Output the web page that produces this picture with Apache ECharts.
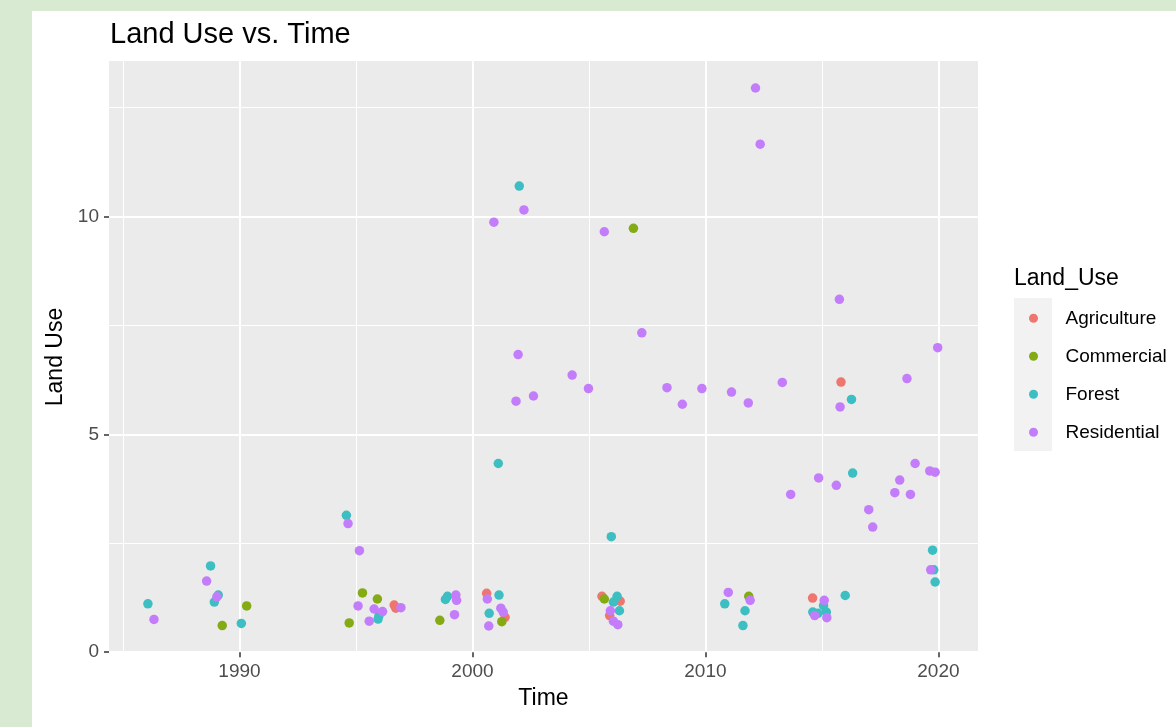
<!DOCTYPE html>
<html>
<head>
<meta charset="utf-8">
<script src="https://cdn.jsdelivr.net/npm/echarts@6/dist/echarts.min.js"></script>
<style>
  html, body { margin: 0; padding: 0; background: #d9ead3; width: 1176px; height: 727px; overflow: hidden; }
  #paper { position: absolute; left: 32px; top: 11px; right: 0; bottom: 0; background: #ffffff; }
  #chart { position: absolute; left: 0; top: 0; width: 1176px; height: 727px; }
</style>
</head>
<body>
<div id="paper"></div>
<div id="chart"></div>
<script>
// ---- Data (Time in years, Land Use value) ----
const categories = ['Agriculture', 'Commercial', 'Forest', 'Residential'];

const agriculture = [
  [1996.64, 1.08], [1996.71, 1.01], [2000.61, 1.35], [2001.40, 0.80], [2005.56, 1.28],
  [2006.34, 1.17], [2005.89, 0.84], [2014.60, 1.24], [2015.82, 6.20]
];

const commercial = [
  [1989.26, 0.61], [1990.31, 1.06], [1995.28, 1.36], [1995.92, 1.22], [1994.71, 0.67],
  [1998.60, 0.73], [2001.26, 0.70], [2005.66, 1.22], [2006.91, 9.73], [2011.86, 1.28]
];

const forest = [
  [1986.07, 1.11], [1988.76, 1.98], [1989.09, 1.31], [1988.92, 1.15], [1990.08, 0.66],
  [1994.59, 3.14], [1995.99, 0.84], [1995.95, 0.76], [1998.93, 1.28], [1998.84, 1.21],
  [2001.14, 1.31], [2000.72, 0.89], [2002.01, 10.70], [2001.11, 4.33], [2005.96, 2.65],
  [2006.21, 1.28], [2006.05, 1.15], [2006.31, 0.95], [2010.83, 1.11], [2011.70, 0.95],
  [2011.61, 0.61], [2015.07, 1.07], [2014.61, 0.92], [2014.83, 0.89], [2015.19, 0.92],
  [2016.00, 1.30], [2016.27, 5.80], [2016.32, 4.11], [2019.75, 2.34], [2019.80, 1.89],
  [2019.86, 1.61]
];

const residential = [
  [1986.33, 0.75], [1988.59, 1.63], [1989.03, 1.27], [1994.66, 2.95], [1995.15, 2.33],
  [1995.09, 1.06], [1995.78, 0.99], [1996.14, 0.93], [1995.57, 0.71], [1996.93, 1.02],
  [1999.29, 1.31], [1999.32, 1.19], [1999.23, 0.86], [2000.64, 1.22], [2000.70, 0.60],
  [2001.22, 1.01], [2001.32, 0.92], [2005.92, 0.95], [2006.05, 0.71], [2006.24, 0.63],
  [2000.92, 9.87], [2002.21, 10.15], [2005.66, 9.65], [2007.27, 7.33], [2001.96, 6.83],
  [2004.28, 6.36], [2004.98, 6.05], [2002.62, 5.88], [2001.87, 5.76], [2008.35, 6.07],
  [2009.01, 5.69], [2009.85, 6.05], [2010.98, 1.37], [2011.92, 1.19], [2015.10, 1.19],
  [2014.69, 0.84], [2015.21, 0.79], [2019.67, 1.89], [2017.01, 3.27], [2017.18, 2.87],
  [2013.66, 3.62], [2014.86, 4.00], [2015.62, 3.83], [2018.34, 3.95], [2018.13, 3.66],
  [2018.80, 3.62], [2019.00, 4.33], [2019.63, 4.16], [2019.86, 4.13], [2012.15, 12.95],
  [2012.35, 11.66], [2015.75, 8.10], [2019.97, 6.99], [2018.65, 6.28], [2015.78, 5.63],
  [2013.30, 6.19], [2011.12, 5.97], [2011.84, 5.72]
];

const xTickValues = [1990, 2000, 2010, 2020];
const yTickValues = [0, 5, 10];

// ---- Styling ----
const colors = ['#EE766E', '#84AA14', '#3DBEC2', '#C47DFA'];
const FONT = '"Liberation Sans", Arial, Helvetica, sans-serif';
const seriesData = [agriculture, commercial, forest, residential];

const isTick = (v, list) => list.some(t => Math.abs(t - v) < 1e-6);

const chart = echarts.init(document.getElementById('chart'), null, { renderer: 'canvas' });

const option = {
  animation: false,
  backgroundColor: 'transparent',
  color: colors,
  title: [
    {
      text: 'Land Use vs. Time',
      left: 110, top: 20, padding: 0,
      textStyle: { fontFamily: FONT, fontSize: 29, lineHeight: 29, fontWeight: 'normal', color: '#000000' }
    },
    {
      text: 'Land_Use',
      left: 1014, top: 267, padding: 0,
      textStyle: { fontFamily: FONT, fontSize: 23, lineHeight: 23, fontWeight: 'normal', color: '#000000' }
    }
  ],
  graphic: [
    { type: 'rect', z: 0, shape: { x: 1014, y: 298, width: 38, height: 153 }, style: { fill: '#F2F2F2' }, silent: true }
  ],
  legend: {
    orient: 'vertical',
    left: 1029, top: 308.3, padding: 0,
    itemWidth: 54, itemHeight: 9, itemGap: 18,
    icon: 'circle',
    selectedMode: false,
    data: categories,
    textStyle: { fontFamily: FONT, fontSize: 19, lineHeight: 20, color: '#000000' }
  },
  grid: {
    left: 109, top: 61, right: 198, bottom: 74,
    show: true, backgroundColor: '#EBEBEB', borderWidth: 0,
    containLabel: false
  },
  xAxis: {
    type: 'value',
    min: 1984.4, max: 2021.7,
    minInterval: 10, maxInterval: 10, splitNumber: 4,
    name: 'Time', nameLocation: 'middle', nameGap: 34,
    nameTextStyle: { fontFamily: FONT, fontSize: 23, color: '#000000' },
    axisLine: { show: false },
    axisTick: { show: true, length: 5, lineStyle: { color: '#333333', width: 1.5 }, customValues: xTickValues },
    axisLabel: {
      margin: 9, fontFamily: FONT, fontSize: 19, color: '#4D4D4D',
      customValues: xTickValues,
      formatter: v => isTick(v, xTickValues) ? String(Math.round(v)) : ''
    },
    splitLine: { show: true, lineStyle: { color: '#FFFFFF', width: 2 }, customValues: xTickValues },
    minorTick: { show: false, splitNumber: 2 },
    minorSplitLine: { show: true, lineStyle: { color: '#FFFFFF', width: 1 } }
  },
  yAxis: {
    type: 'value',
    min: -0.02, max: 13.57,
    minInterval: 5, maxInterval: 5, splitNumber: 3,
    name: 'Land Use', nameLocation: 'middle', nameGap: 36,
    nameTextStyle: { fontFamily: FONT, fontSize: 23, color: '#000000' },
    axisLine: { show: false },
    axisTick: { show: true, length: 5, lineStyle: { color: '#333333', width: 1.5 }, customValues: yTickValues },
    axisLabel: {
      margin: 10, fontFamily: FONT, fontSize: 19, color: '#4D4D4D',
      customValues: yTickValues,
      formatter: v => isTick(v, yTickValues) ? String(Math.round(v)) : ''
    },
    splitLine: { show: true, lineStyle: { color: '#FFFFFF', width: 2 }, customValues: yTickValues },
    minorTick: { show: false, splitNumber: 2 },
    minorSplitLine: { show: true, lineStyle: { color: '#FFFFFF', width: 1 } }
  },
  series: categories.map((name, i) => ({
    name: name,
    type: 'scatter',
    data: seriesData[i],
    symbol: 'circle',
    symbolSize: 9.5,
    itemStyle: { color: colors[i], opacity: 1 },
    emphasis: { disabled: true }
  }))
};

chart.setOption(option);
</script>
</body>
</html>
